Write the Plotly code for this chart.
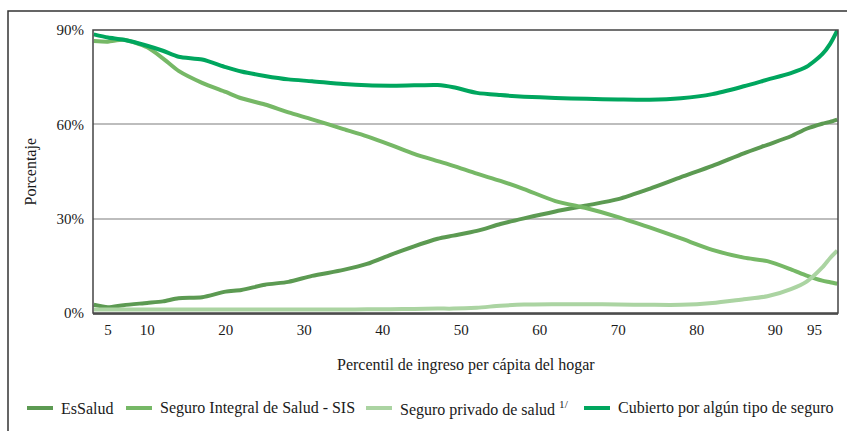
'''
    Cobertura de seguro de salud por percentil de ingreso per cápita del hogar.
    Line chart with four series, styled after the reference figure.
'''

import plotly.graph_objects as go

# percentiles where the curves were read
percentiles = [3.2, 5, 7, 10, 12, 14, 17, 20, 22, 25, 28, 31, 35, 38, 41, 44, 47,
               49, 52, 55, 58, 62, 66, 70, 74, 78, 82, 86, 89, 92, 94, 96, 97, 97.9]

essalud = [2.6, 1.8, 2.5, 3.2, 3.7, 4.7, 5.0, 6.8, 7.3, 9.0, 9.9, 11.8, 13.7, 15.6,
           18.5, 21.2, 23.6, 24.6, 26.1, 28.3, 30.1, 32.3, 34.2, 36.2, 39.5, 43.2,
           46.8, 50.8, 53.5, 56.2, 58.6, 60.2, 60.8, 61.5]

sis = [86.5, 86.3, 86.9, 84.5, 81.0, 77.0, 73.2, 70.3, 68.3, 66.3, 63.8, 61.6, 58.5,
       56.2, 53.5, 50.6, 48.3, 46.8, 44.3, 42.0, 39.4, 35.6, 33.3, 30.5, 27.2, 23.7,
       20.1, 17.6, 16.5, 13.9, 11.9, 10.3, 9.8, 9.3]

privado = [1.1, 1.1, 1.1, 1.1, 1.1, 1.1, 1.1, 1.1, 1.1, 1.1, 1.1, 1.1, 1.1, 1.2,
           1.2, 1.3, 1.4, 1.4, 1.7, 2.3, 2.7, 2.8, 2.8, 2.7, 2.6, 2.6, 3.2, 4.4,
           5.3, 7.6, 10.0, 14.5, 17.5, 19.8]

cubierto = [88.6, 87.6, 86.9, 85.0, 83.4, 81.5, 80.6, 78.2, 76.8, 75.4, 74.3, 73.7,
            72.8, 72.4, 72.3, 72.4, 72.5, 71.8, 70.0, 69.3, 68.8, 68.4, 68.1, 67.9,
            67.8, 68.3, 69.6, 72.1, 74.2, 76.3, 78.3, 82.3, 85.6, 89.8]

series_names = ['EsSalud', 'Seguro Integral de Salud - SIS',
                'Seguro privado de salud <sup>1/</sup>',
                'Cubierto por algún tipo de seguro']
series_colors = ['#5c9a52', '#76b866', '#abd4a2', '#00a65e']

x_ticks = [5, 10, 20, 30, 40, 50, 60, 70, 80, 90, 95]
y_ticks = [0, 30, 60, 90]
y_labels = ['0%', '30%', '60%', '90%']

FONT = 'Liberation Serif, Times New Roman, serif'

fig = go.Figure()
for name, vals, color in zip(series_names, [essalud, sis, privado, cubierto], series_colors):
    fig.add_trace(go.Scatter(x=percentiles, y=vals, name=name, mode='lines',
                             line=dict(color=color, width=4, shape='spline', smoothing=0.7)))

# plot area is 93..838 px wide, 30..313 px tall
W, H = 847, 431
L, R, T, B = 93, 9, 30, 118
pw, ph = W - L - R, H - T - B


def px(x):
    return (x - L) / pw


def py(y):
    return (313 - y) / ph


fig.update_layout(
    width=W, height=H,
    margin=dict(l=L, r=R, t=T, b=B),
    paper_bgcolor='white', plot_bgcolor='white',
    font=dict(family=FONT, size=14, color='#1a1a1a'),
    showlegend=False,
)

fig.update_xaxes(range=[3.1, 98.0], tickvals=x_ticks, showgrid=False,
                 showline=True, linecolor='#666', linewidth=2, mirror=False,
                 ticks='', zeroline=False, tickfont=dict(family=FONT, size=15),
                 ticklabelstandoff=2)
fig.update_yaxes(range=[0, 90], tickvals=y_ticks, ticktext=y_labels, tickmode='array',
                 showgrid=True, gridcolor='#bdbdbd', gridwidth=1.5,
                 showline=False, ticks='', zeroline=False,
                 tickfont=dict(family=FONT, size=15), ticklabelstandoff=8)

# frame of the plot area
fig.add_shape(type='rect', xref='paper', yref='paper', x0=0, x1=1, y0=0, y1=1,
              line=dict(color='#444', width=1.5), layer='above')
# outer frame around the figure (left and top visible)
fig.add_shape(type='rect', xref='paper', yref='paper',
              x0=px(8), x1=px(880), y0=py(470), y1=py(11),
              line=dict(color='#333', width=1.5))

# axis titles
fig.add_annotation(text='Porcentaje', xref='paper', yref='paper',
                   x=px(30), y=0.5, xanchor='center', yanchor='middle',
                   textangle=-90, showarrow=False, font=dict(family=FONT, size=16))
fig.add_annotation(text='Percentil de ingreso per cápita del hogar', xref='paper',
                   yref='paper', x=0.5, y=py(365), xanchor='center', yanchor='middle',
                   showarrow=False, font=dict(family=FONT, size=16))

# legend drawn by hand so the entries sit on one row like the original
legend_line_x = [27, 126, 366, 584]
for name, color, lx in zip(series_names, series_colors, legend_line_x):
    fig.add_shape(type='line', xref='paper', yref='paper',
                  x0=px(lx), x1=px(lx + 26), y0=py(408), y1=py(408),
                  line=dict(color=color, width=4))
    fig.add_annotation(text=name, xref='paper', yref='paper',
                       x=px(lx + 32), y=py(408), xanchor='left', yanchor='middle',
                       showarrow=False, font=dict(family=FONT, size=16))

# page body has a default 8px margin; drop it so the figure sits at (0, 0)
fig.write_html('out.html', config={'displayModeBar': False},
               post_script="document.body.style.margin='0';")
